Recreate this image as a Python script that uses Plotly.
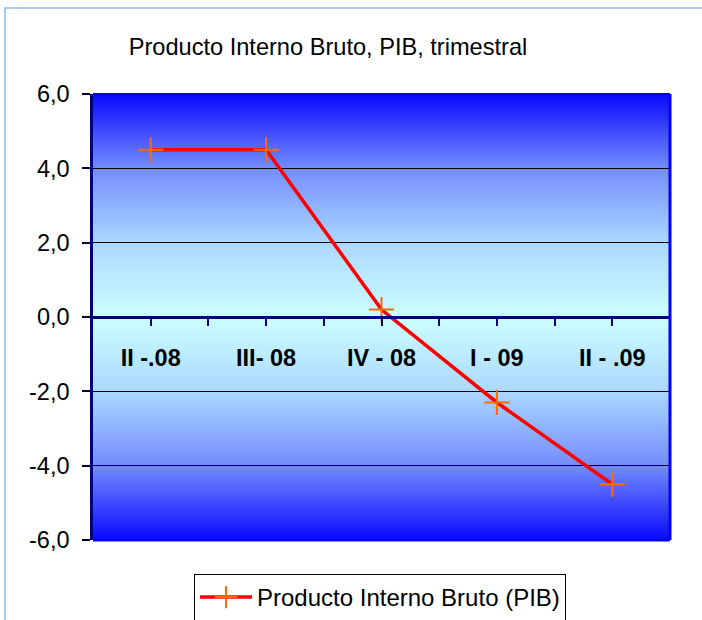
import zlib, struct, base64
import plotly.graph_objects as go

# ---- data ----
categories = ["II -.08", "III- 08", "IV - 08", "I - 09", "II - .09"]
pib_values = [4.5, 4.5, 0.2, -2.3, -4.5]
y_tickvals = [-6, -4, -2, 0, 2, 4, 6]
y_ticktext = ["-6,0", "-4,0", "-2,0", "0,0", "2,0", "4,0", "6,0"]
series_name = "Producto Interno Bruto (PIB)"
title_text = "Producto Interno Bruto, PIB, trimestral"

FONT = "Liberation Sans, Arial, sans-serif"

# ---- background gradient (blue at edges, light cyan at zero) as PNG ----
stops = [(0.0, (204, 255, 255)), (0.33, (172, 216, 255)),
         (0.67, (115, 140, 255)), (1.0, (10, 10, 255))]

def grad_color(t):
    for (t0, c0), (t1, c1) in zip(stops[:-1], stops[1:]):
        if t <= t1:
            f = (t - t0) / (t1 - t0)
            return tuple(int(round(a + (b - a) * f)) for a, b in zip(c0, c1))
    return stops[-1][1]

def png_bytes(rows, width=2):
    raw = b"".join(b"\x00" + bytes(c) * width for c in rows)
    def chunk(t, d):
        return struct.pack(">I", len(d)) + t + d + struct.pack(">I", zlib.crc32(t + d) & 0xffffffff)
    ihdr = struct.pack(">IIBBBBB", width, len(rows), 8, 2, 0, 0, 0)
    return (b"\x89PNG\r\n\x1a\n" + chunk(b"IHDR", ihdr)
            + chunk(b"IDAT", zlib.compress(raw)) + chunk(b"IEND", b""))

N = 446
rows = [grad_color(abs(1 - 2 * i / (N - 1))) for i in range(N)]
img_uri = "data:image/png;base64," + base64.b64encode(png_bytes(rows)).decode()

x_pos = list(range(len(categories)))
minor_vals = [i + 0.5 for i in range(len(categories))]

fig = go.Figure()
fig.add_trace(go.Scatter(
    x=x_pos, y=pib_values, name=series_name, mode="lines+markers",
    line=dict(color="#FF0000", width=3.5),
    marker=dict(symbol="cross-thin", size=18, line=dict(color="#FF6A00", width=2)),
    hoverinfo="skip", showlegend=True,
))

navy = "#000080"
fig.update_layout(
    width=702, height=620,
    margin=dict(l=93, r=32, t=94, b=80, autoexpand=False),
    paper_bgcolor="white", plot_bgcolor="white",
    font=dict(family=FONT, color="black"),
    title=dict(text=title_text, x=(328 - 93) / 577, xref="paper", xanchor="center",
               y=1 - 47 / 620, yref="container", yanchor="middle",
               font=dict(size=23.6, family=FONT, color="black")),
    xaxis=dict(
        range=[-0.5, len(categories) - 0.5], anchor="free", position=0.5,
        automargin=False,
        showgrid=False, zeroline=False, showline=True, linecolor=navy, linewidth=2.5,
        tickmode="array", tickvals=x_pos, ticktext=categories,
        ticks="outside", ticklen=7, tickwidth=2, tickcolor=navy,
        minor=dict(tickmode="array", tickvals=minor_vals, ticks="outside",
                   ticklen=7, tickwidth=2, tickcolor=navy, showgrid=False),
        tickfont=dict(size=23.5, family=FONT, color="black", weight="bold"),
        ticklabelstandoff=12,
    ),
    yaxis=dict(
        range=[-6, 6], domain=[0, 1], automargin=False,
        tickmode="array", tickvals=y_tickvals, ticktext=y_ticktext,
        showgrid=True, gridcolor="black", gridwidth=1,
        zeroline=False, showline=True, linecolor=navy, linewidth=2.5,
        ticks="outside", ticklen=8, tickwidth=1.5, tickcolor="#000030",
        tickfont=dict(size=23.5, family=FONT, color="black"),
        ticklabelstandoff=8,
    ),
    legend=dict(
        orientation="h", x=(380 - 93) / 577, xanchor="center",
        yref="container", y=1 - 574 / 620, yanchor="top",
        bordercolor="black", borderwidth=1, bgcolor="white",
        itemwidth=52,
        font=dict(size=24, family=FONT, color="black"),
    ),
    images=[dict(source=img_uri, xref="paper", yref="paper", x=0, y=1,
                 sizex=1, sizey=1, sizing="stretch", xanchor="left",
                 yanchor="top", layer="below")],
    shapes=[
        # plot-area frame (top, right, bottom)
        dict(type="line", xref="paper", yref="paper", x0=0, x1=1, y0=1, y1=1,
             line=dict(color="#0000FF", width=2), layer="above"),
        dict(type="line", xref="paper", yref="paper", x0=1, x1=1, y0=0, y1=1,
             line=dict(color="#0000FF", width=3), layer="above"),
        dict(type="line", xref="paper", yref="paper", x0=0, x1=1, y0=0, y1=0,
             line=dict(color="#0000FF", width=3), layer="above"),
        # outer chart border
        dict(type="rect", xref="paper", yref="paper",
             x0=(5 - 93) / 577, x1=(712 - 93) / 577,
             y0=(540 - 640) / 446, y1=(540 - 8) / 446,
             line=dict(color="#A8CDF2", width=2), layer="below"),
    ],
)

fig.write_html("out.html", config={"displayModeBar": False},
               post_script="document.body.style.margin='0px';")
